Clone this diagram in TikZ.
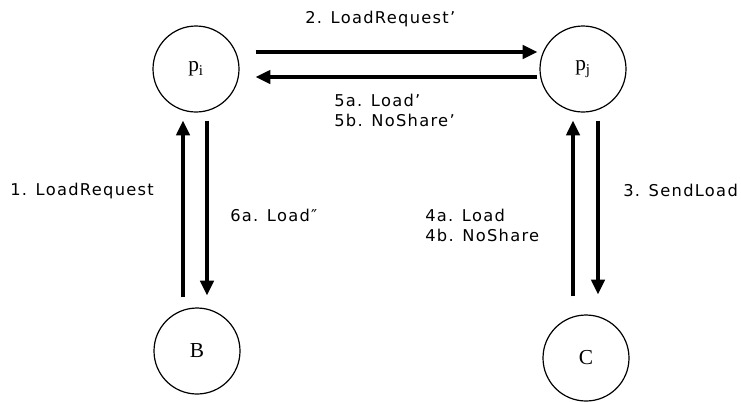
\documentclass[tikz,border=0pt]{standalone}
\usepackage{fontspec}
\setmainfont{Liberation Serif}
\newfontfamily\msgfont[LetterSpace=8]{DejaVu Sans}
\usetikzlibrary{arrows.meta}
\usetikzlibrary{calc}

\begin{document}
\begin{tikzpicture}[x=0.75pt,y=-0.75pt,
        proc/.style={circle,draw,line width=0.9pt,minimum size=64.5pt,inner sep=0pt,font=\fontsize{16}{18}\selectfont},
        msg/.style={-{Triangle[length=11pt,width=10pt]},line width=2.3pt},
        lbl/.style={font=\msgfont\fontsize{12.2}{15}\selectfont,align=left,inner sep=0pt,anchor=west}]
        \useasboundingbox (0,0) rectangle (741,401);

        \node[proc] (pi) at (196,69) {p$_{\mathrm{i}}$};
        \node[proc] (pj) at (583,69) {p$_{\mathrm{j}}$};
        \node[proc] (B) at (197,351) {B};
        \node[proc] (C) at (586,358) {C};

        \draw[msg] ($(pi.east)+(16,-17)$) -- ($(pj.west)+(-2,-17)$);
        \draw[msg] ($(pj.west)+(-2,8)$) -- ($(pi.east)+(16,8)$);
        \draw[msg] ($(B.north)+(-14,-10)$) -- ($(pi.south)+(-13,8)$);
        \draw[msg] ($(pi.south)+(11,8)$) -- ($(B.north)+(10,-12)$);
        \draw[msg] ($(C.north)+(-13,-18)$) -- ($(pj.south)+(-10,8)$);
        \draw[msg] ($(pj.south)+(15,8)$) -- ($(C.north)+(12,-20)$);

        \node[lbl] (l2) at (305,19) {2. LoadRequest’};
        \node[lbl] (l5) at (334,110) {5a. Load’\\5b. NoShare’};
        \node[lbl] (l1) at (10,191) {1. LoadRequest};
        \node[lbl] (l6) at (230,215) {6a. Load″};
        \node[lbl] (l4) at (425,225) {4a. Load\\4b. NoShare};
        \node[lbl] (l3) at (623,190) {3. SendLoad};

    \end{tikzpicture}
\end{document}
